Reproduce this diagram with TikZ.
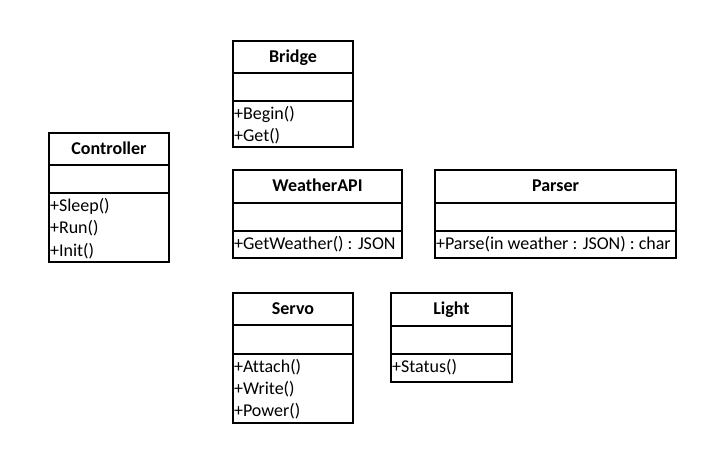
\documentclass[tikz,border=0pt]{standalone}
\usepackage{fontspec}
\setmainfont{Carlito}[Ligatures=CommonOff]
\tikzset{
  classname/.style={font=\fontsize{18}{22}\selectfont\bfseries,anchor=base,inner sep=0pt},
  member/.style={font=\fontsize{18}{22}\selectfont,anchor=base west,inner sep=1pt}
}
\begin{document}
\begin{tikzpicture}[x=1pt,y=-1pt,line width=1.1pt]
        \useasboundingbox (0,0) rectangle (727,467);

        % Bridge
        \draw (233,41) rectangle (353,147);
        \draw (233,73) -- (353,73);
        \draw (233,101) -- (353,101);
        \node[classname] (bridge) at (293,62) {Bridge};
        \node[member] (bridgebegin) at (232.5,119.3) {+Begin()};
        \node[member] (bridgeget) at (232.5,141.6) {+Get()};

        % Controller
        \draw (49,133) rectangle (169,262);
        \draw (49,165) -- (169,165);
        \draw (49,193) -- (169,193);
        \node[classname] (controller) at (109,154) {Controller};
        \node[member] (ctrlsleep) at (48.5,211.5) {+Sleep()};
        \node[member] (ctrlrun) at (48.5,233.8) {+Run()};
        \node[member] (ctrlinit) at (48.5,256.1) {+Init()};

        % WeatherAPI
        \draw (233,170) rectangle (402,258);
        \draw (233,203) -- (402,203);
        \draw (233,231) -- (402,231);
        \node[classname] (weather) at (317.5,191) {WeatherAPI};
        \node[member] (weatherget) at (232.5,249.3) {+GetWeather() : JSON};

        % Parser
        \draw (435,170) rectangle (676,258);
        \draw (435,203) -- (676,203);
        \draw (435,231) -- (676,231);
        \node[classname] (parser) at (555.5,191) {Parser};
        \node[member] (parserparse) at (434.5,249.3) {+Parse(in weather : JSON) : char};

        % Servo
        \draw (233,293) rectangle (353,423);
        \draw (233,325) -- (353,325);
        \draw (233,354) -- (353,354);
        \node[classname] (servo) at (293,314) {Servo};
        \node[member] (servoattach) at (232.5,372.3) {+Attach()};
        \node[member] (servowrite) at (232.5,394.6) {+Write()};
        \node[member] (servopower) at (232.5,416.9) {+Power()};

        % Light
        \draw (391,293) rectangle (512,382);
        \draw (391,326) -- (512,326);
        \draw (391,354) -- (512,354);
        \node[classname] (light) at (451.5,314) {Light};
        \node[member] (lightstatus) at (390.5,372.3) {+Status()};
      \end{tikzpicture}
\end{document}
